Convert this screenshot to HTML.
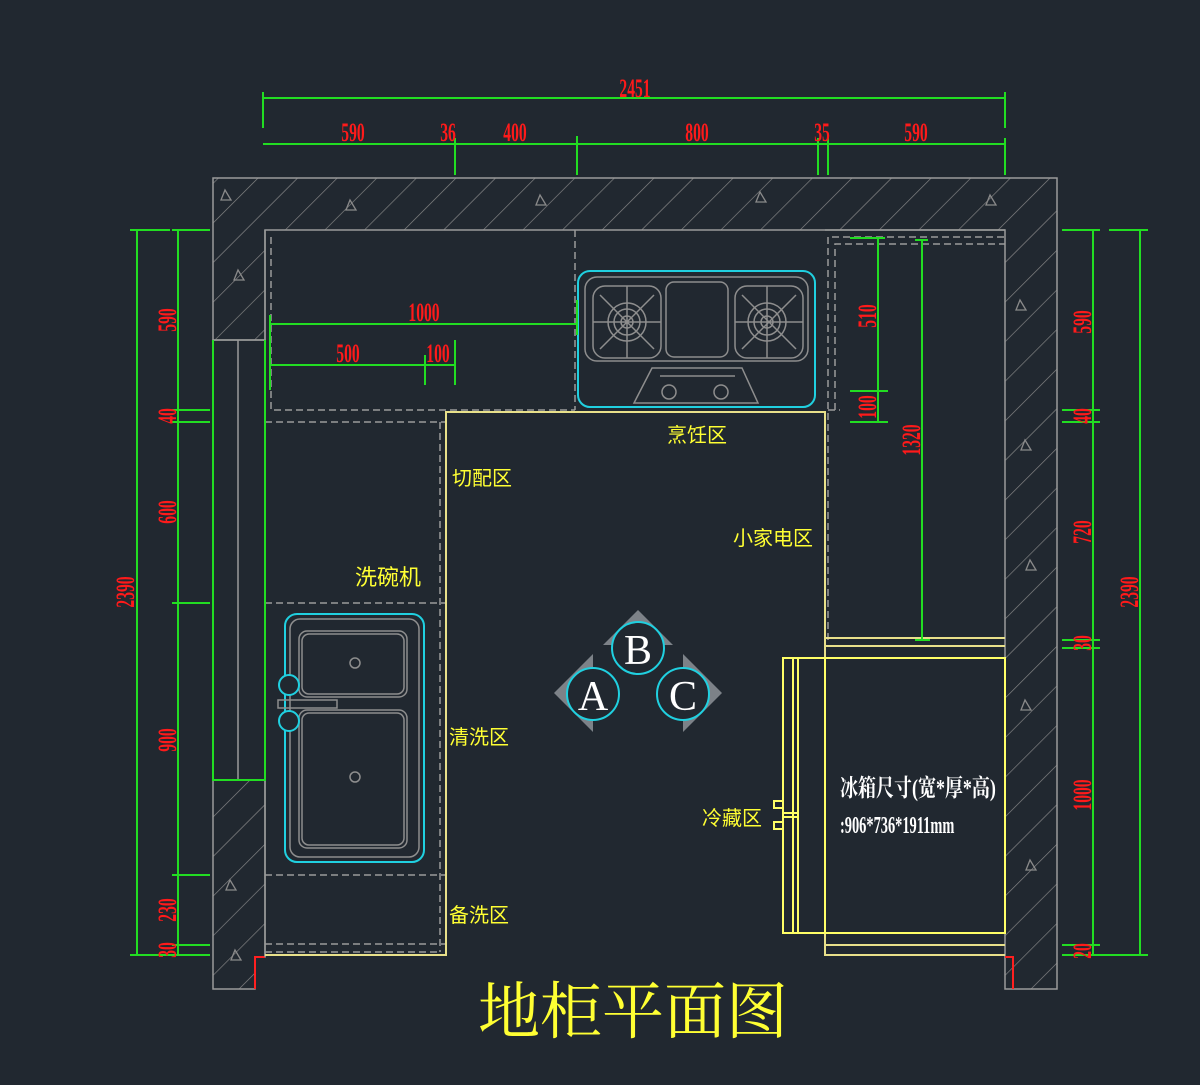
<!DOCTYPE html>
<html><head><meta charset="utf-8"><style>
html,body{margin:0;padding:0;background:#212830;}
svg{display:block}
.r{fill:#ff1a1a;font-family:"Liberation Serif",serif;font-size:26px;font-weight:bold;text-anchor:middle}
.y{fill:#ffff33;font-family:"Liberation Sans","Noto Sans CJK SC",sans-serif;font-size:20px}
</style></head><body>
<svg width="1200" height="1085" viewBox="0 0 1200 1085" xmlns="http://www.w3.org/2000/svg">
<defs>
<pattern id="h" patternUnits="userSpaceOnUse" width="28" height="28" patternTransform="rotate(45)">
<line x1="0" y1="0" x2="0" y2="28" stroke="#8a8a8a" stroke-width="1.3"/>
</pattern>
</defs>
<rect width="1200" height="1085" fill="#212830"/>
<g stroke="#9a9a9a" stroke-width="1.5">
<path d="M213 178 H1057 V989 H1005 V230 H265 V340 H213 Z" fill="url(#h)"/>
<path d="M213 780 H265 V957 H255 V989 H213 Z" fill="url(#h)"/>
<rect x="213" y="340" width="52" height="440" fill="none"/>
<line x1="238" y1="340" x2="238" y2="780"/>
</g>
<path d="M265 957 H255 V989 M1005 957 H1013 V989" stroke="#ff2020" stroke-width="2" fill="none"/>
<g fill="none" stroke="#8a8a8a" stroke-width="1.3">
<path d="M225 190 l6 10 h-10z M350 200 l6 10 h-10z M540 195 l6 10 h-10z M760 192 l6 10 h-10z M990 195 l6 10 h-10z M238 270 l6 10 h-10z M1020 300 l6 10 h-10z M1025 440 l6 10 h-10z M1030 560 l6 10 h-10z M1025 700 l6 10 h-10z M1030 860 l6 10 h-10z M230 880 l6 10 h-10z M235 950 l6 10 h-10z"/>
</g>
<g stroke="#9a9a9a" stroke-width="1.5" stroke-dasharray="7,4" fill="none">
<path d="M271 237 V410 H575"/>
<line x1="575" y1="230" x2="575" y2="410"/>
<line x1="265" y1="422" x2="446" y2="422"/>
<line x1="265" y1="603" x2="446" y2="603"/>
<line x1="265" y1="875" x2="446" y2="875"/>
<line x1="265" y1="944" x2="446" y2="944"/>
<line x1="265" y1="952" x2="440" y2="952"/>
<line x1="440" y1="422" x2="440" y2="952"/>
<path d="M828 640 V237 H1005"/>
<path d="M835 410 V244 H1005"/>
<path d="M828 410 H840"/>
</g>
<g stroke="#9a9a9a" stroke-width="1.5" fill="none">
<line x1="265" y1="230" x2="265" y2="957"/>
<line x1="825" y1="230" x2="1005" y2="230"/>
</g>
<g stroke="#e8e08a" stroke-width="2" fill="none">
<path d="M265 955 H446 V412 H825 V955 H1005"/>
<line x1="825" y1="638" x2="1005" y2="638"/>
<line x1="825" y1="646" x2="1005" y2="646"/>
<line x1="825" y1="945" x2="1005" y2="945"/>
<rect x="825" y="658" width="180" height="275" stroke="#ffff66"/>
<rect x="783" y="658" width="42" height="275" stroke="#ffff66"/>
<line x1="793" y1="658" x2="793" y2="933" stroke="#ffff66"/>
<line x1="798" y1="658" x2="798" y2="933" stroke="#ffff66"/>
<line x1="783" y1="813" x2="798" y2="813" stroke="#ffff66"/>
<line x1="783" y1="817" x2="798" y2="817" stroke="#ffff66"/>
<rect x="774" y="801" width="9" height="7" stroke="#ffff66"/>
<rect x="774" y="822" width="9" height="7" stroke="#ffff66"/>
</g>
<rect x="578" y="271" width="237" height="136" rx="12" fill="none" stroke="#20d0e0" stroke-width="2"/>
<g stroke="#8e8e8e" stroke-width="1.5" fill="none">
<rect x="585" y="277" width="223" height="84" rx="12"/>
<rect x="593" y="286" width="68" height="72" rx="12"/>
<rect x="735" y="286" width="68" height="72" rx="12"/>
<rect x="666" y="282" width="62" height="75" rx="8"/>
<circle cx="627" cy="322" r="19"/><circle cx="627" cy="322" r="13"/><circle cx="627" cy="322" r="6"/>
<circle cx="767" cy="322" r="19"/><circle cx="767" cy="322" r="13"/><circle cx="767" cy="322" r="6"/>
<path d="M593 322 H661 M627 286 V358 M600 295 L654 349 M654 295 L600 349 M735 322 H803 M767 286 V358 M742 295 L796 349 M796 295 L742 349"/>
<path d="M652 368 H742 L758 403 H634 Z M660 376 H735"/>
<circle cx="669" cy="392" r="7"/><circle cx="721" cy="392" r="7"/>
</g>
<rect x="285" y="614" width="139" height="248" rx="12" fill="none" stroke="#20d0e0" stroke-width="2"/>
<g stroke="#8e8e8e" stroke-width="1.5" fill="none">
<rect x="290" y="619" width="129" height="238" rx="10"/>
<rect x="299" y="631" width="108" height="66" rx="8"/>
<rect x="302" y="634" width="102" height="60" rx="7"/>
<rect x="299" y="710" width="108" height="138" rx="8"/>
<rect x="302" y="713" width="102" height="132" rx="7"/>
<rect x="278" y="700" width="59" height="8"/>
<circle cx="355" cy="663" r="5"/><circle cx="355" cy="777" r="5"/>
</g>
<circle cx="289" cy="685" r="10" fill="#212830" stroke="#20d0e0" stroke-width="2"/>
<circle cx="289" cy="721" r="10" fill="#212830" stroke="#20d0e0" stroke-width="2"/>
<g fill="#7d8288">
<path d="M638 610 L673 645 H603 Z"/>
<path d="M554 693 L593 654 V732 Z"/>
<path d="M722 693 L683 654 V732 Z"/>
</g>
<g fill="#212830" stroke="#20d0e0" stroke-width="2">
<circle cx="638" cy="648" r="26"/><circle cx="593" cy="694" r="26"/><circle cx="683" cy="694" r="26"/>
</g>
<g fill="#ffffff" font-family="Liberation Serif,serif" font-size="42" text-anchor="middle">
<text x="638" y="664">B</text><text x="593" y="710">A</text><text x="683" y="710">C</text>
</g>
<g stroke="#22dd22" stroke-width="2" fill="none">
<line x1="263" y1="98" x2="1005" y2="98"/>
<line x1="263" y1="92" x2="263" y2="128"/><line x1="1005" y1="92" x2="1005" y2="128"/>
<line x1="263" y1="144" x2="1005" y2="144"/>
<line x1="455" y1="138" x2="455" y2="175"/><line x1="577" y1="136" x2="577" y2="175"/>
<line x1="818" y1="138" x2="818" y2="175"/><line x1="828" y1="138" x2="828" y2="175"/>
<line x1="1005" y1="138" x2="1005" y2="175"/>
<line x1="137" y1="230" x2="137" y2="955"/>
<line x1="178" y1="230" x2="178" y2="955"/>
<path d="M130 230 H170 M172 230 H210 M172 410 H210 M172 422 H210 M172 603 H210 M172 875 H210 M172 945 H210 M130 955 H210"/>
<path d="M213 340 V780 H265 V340"/>
<line x1="1093" y1="230" x2="1093" y2="955"/>
<line x1="1140" y1="230" x2="1140" y2="955"/>
<path d="M1062 230 H1100 M1109 230 H1148 M1062 410 H1100 M1062 422 H1100 M1062 640 H1100 M1062 648 H1100 M1062 945 H1100 M1062 955 H1148"/>
<line x1="270" y1="324" x2="577" y2="324"/>
<line x1="270" y1="315" x2="270" y2="390"/>
<line x1="577" y1="300" x2="577" y2="335"/>
<line x1="270" y1="365" x2="455" y2="365"/>
<line x1="425" y1="355" x2="425" y2="385"/><line x1="455" y1="340" x2="455" y2="385"/>
<line x1="878" y1="238" x2="878" y2="422"/>
<path d="M850 238 H885 M850 391 H888 M850 422 H888"/>
<line x1="922" y1="240" x2="922" y2="640"/>
<path d="M915 240 H928 M915 640 H930"/>
</g>
<g class="r">
<text transform="translate(635,97) scale(.6,1)">2451</text>
<text transform="translate(353,141) scale(.6,1)">590</text>
<text transform="translate(448,141) scale(.6,1)">36</text>
<text transform="translate(515,141) scale(.6,1)">400</text>
<text transform="translate(697,141) scale(.6,1)">800</text>
<text transform="translate(822,141) scale(.6,1)">35</text>
<text transform="translate(916,141) scale(.6,1)">590</text>
<text transform="translate(424,321) scale(.6,1)">1000</text>
<text transform="translate(348,362) scale(.6,1)">500</text>
<text transform="translate(438,362) scale(.6,1)">100</text>
<text transform="translate(134,592) rotate(-90) scale(.6,1)">2390</text>
<text transform="translate(176,320) rotate(-90) scale(.6,1)">590</text>
<text transform="translate(176,416) rotate(-90) scale(.6,1)">40</text>
<text transform="translate(176,512) rotate(-90) scale(.6,1)">600</text>
<text transform="translate(176,740) rotate(-90) scale(.6,1)">900</text>
<text transform="translate(176,910) rotate(-90) scale(.6,1)">230</text>
<text transform="translate(176,950) rotate(-90) scale(.6,1)">30</text>
<text transform="translate(876,316) rotate(-90) scale(.6,1)">510</text>
<text transform="translate(876,407) rotate(-90) scale(.6,1)">100</text>
<text transform="translate(920,440) rotate(-90) scale(.6,1)">1320</text>
<text transform="translate(1091,322) rotate(-90) scale(.6,1)">590</text>
<text transform="translate(1091,416) rotate(-90) scale(.6,1)">40</text>
<text transform="translate(1091,532) rotate(-90) scale(.6,1)">720</text>
<text transform="translate(1091,643) rotate(-90) scale(.6,1)">30</text>
<text transform="translate(1091,795) rotate(-90) scale(.6,1)">1000</text>
<text transform="translate(1091,951) rotate(-90) scale(.6,1)">20</text>
<text transform="translate(1138,592) rotate(-90) scale(.6,1)">2390</text>
</g>
<g class="y">
<text x="667" y="442">烹饪区</text>
<text x="452" y="485">切配区</text>
<text x="733" y="545">小家电区</text>
<text x="355" y="585" font-size="22">洗碗机</text>
<text x="449" y="744">清洗区</text>
<text x="702" y="825">冷藏区</text>
<text x="449" y="922">备洗区</text>
</g>
<g fill="#ffffff" font-family="Liberation Serif,'Noto Serif CJK SC',serif" font-weight="bold">
<text transform="translate(840,796) scale(.75,1)" font-size="24">冰箱尺寸(宽*厚*高)</text>
<text transform="translate(840,833) scale(.6,1)" font-size="24">:906*736*1911mm</text>
</g>
<text x="633" y="1033" fill="#ffff33" font-family="'Noto Serif CJK SC','Noto Sans CJK SC',serif" font-size="62" text-anchor="middle">地柜平面图</text>
</svg>
</body></html>
